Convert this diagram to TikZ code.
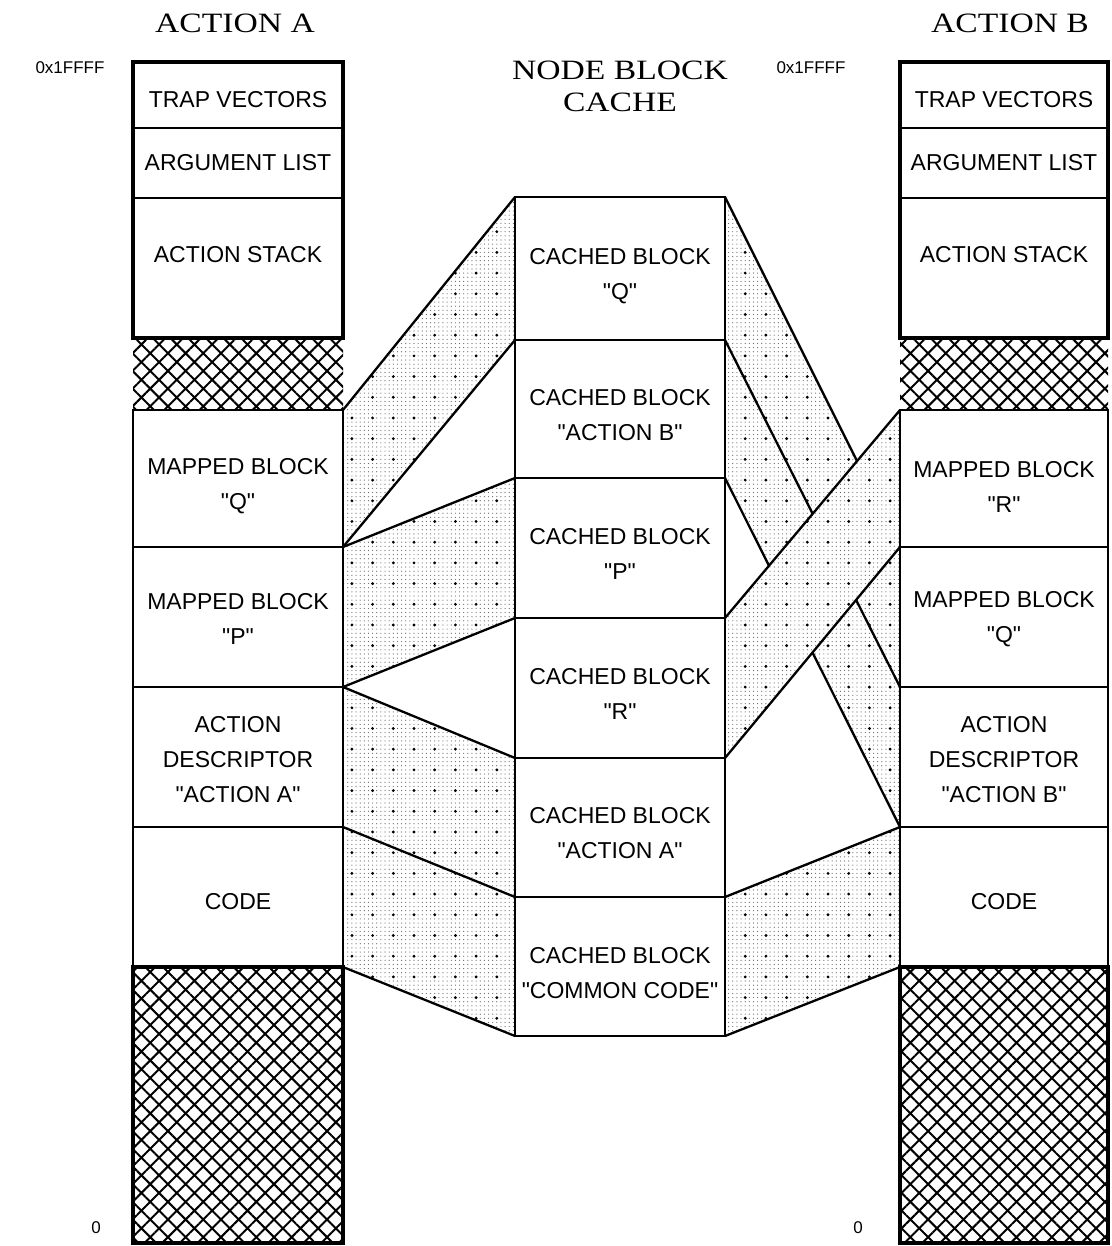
\documentclass[tikz,border=0pt]{standalone}
\usepackage{fontspec}
\setmainfont{Liberation Sans}[Ligatures=TeXOff]
\newfontfamily\boxfont{Liberation Sans}
\newfontfamily\titlefont{Liberation Serif}
\usetikzlibrary{patterns.meta,backgrounds}
\begin{document}
\begin{tikzpicture}[x=1pt,y=-1pt,
  box/.style={draw=black, line width=2.1pt, fill=white, outer sep=0pt, inner sep=0pt, anchor=north west, minimum width=210pt},
  rbox/.style={box, minimum width=208pt},
  hatchbox/.style={draw=none, fill=white, outer sep=0pt, inner sep=0pt, anchor=north west, minimum width=210pt,
     postaction={pattern={Hatch[angle=45,distance=12.5pt,line width=2pt]}, pattern color=black}},
  rhatchbox/.style={hatchbox, minimum width=208pt},
  thickline/.style={draw=black, line width=3.8pt},
  edge/.style={draw=black, line width=2.3pt},
  dotfill/.style={fill=white,
     postaction={pattern={Dots[distance=4.14pt,radius=0.6pt]}, pattern color=black!60},
     postaction={pattern={Dots[distance=20.7pt,radius=1.6pt]}, pattern color=black}},
  txt/.style={font=\boxfont\fontsize{23}{35}\selectfont, align=center, inner sep=0pt},
  sm/.style={font=\boxfont\fontsize{17}{20}\selectfont, inner sep=0pt},
  ttl/.style={font=\titlefont\fontsize{28}{32}\selectfont, align=center, inner sep=0pt}
]
\useasboundingbox (0,0) rectangle (1111,1246);

% ---- left column (ACTION A)
\node[box, minimum height=66pt]  (la1) at (133,62) {};
\node[box, minimum height=70pt]  (la2) at (133,128) {};
\node[box, minimum height=140pt] (la3) at (133,198) {};
\node[hatchbox, minimum height=72pt] (lh1) at (133,338) {};
\node[box, minimum height=137pt] (la4) at (133,410) {};
\node[box, minimum height=140pt] (la5) at (133,547) {};
\node[box, minimum height=140pt] (la6) at (133,687) {};
\node[box, minimum height=140pt] (la7) at (133,827) {};
\node[hatchbox, minimum height=276pt] (lh2) at (133,967) {};
\draw[thickline] (la1.north west) rectangle (la3.south east);
\draw[thickline] (lh2.north west) rectangle (lh2.south east);

% ---- center column (NODE BLOCK CACHE)
\node[box, minimum height=143pt] (c1) at (515,197) {};
\node[box, minimum height=138pt] (c2) at (515,340) {};
\node[box, minimum height=140pt] (c3) at (515,478) {};
\node[box, minimum height=140pt] (c4) at (515,618) {};
\node[box, minimum height=139pt] (c5) at (515,758) {};
\node[box, minimum height=139pt] (c6) at (515,897) {};

% ---- right column (ACTION B)
\node[rbox, minimum height=66pt]  (ra1) at (900,62) {};
\node[rbox, minimum height=70pt]  (ra2) at (900,128) {};
\node[rbox, minimum height=140pt] (ra3) at (900,198) {};
\node[rhatchbox, minimum height=72pt] (rh1) at (900,338) {};
\node[rbox, minimum height=137pt] (rb4) at (900,410) {};
\node[rbox, minimum height=140pt] (rb5) at (900,547) {};
\node[rbox, minimum height=140pt] (rb6) at (900,687) {};
\node[rbox, minimum height=140pt] (rb7) at (900,827) {};
\node[rhatchbox, minimum height=276pt] (rh2) at (900,967) {};
\draw[thickline] (ra1.north west) rectangle (ra3.south east);
\draw[thickline] (rh2.north west) rectangle (rh2.south east);

% ---- mapping bands
\begin{scope}[on background layer]
  % left side
  \fill[dotfill] (la4.north east) -- (c1.north west) -- (c1.south west) -- (la4.south east) -- cycle;
  \fill[dotfill] (la5.north east) -- (c3.north west) -- (c3.south west) -- (la5.south east) -- cycle;
  \fill[dotfill] (la6.north east) -- (c5.north west) -- (c5.south west) -- (la6.south east) -- cycle;
  \fill[dotfill] (la7.north east) -- (c6.north west) -- (c6.south west) -- (la7.south east) -- cycle;
  \draw[edge] (la4.north east) -- (c1.north west);
  \draw[edge] (la4.south east) -- (c1.south west);
  \draw[edge] (la5.north east) -- (c3.north west);
  \draw[edge] (la5.south east) -- (c3.south west);
  \draw[edge] (la6.north east) -- (c5.north west);
  \draw[edge] (la7.north east) -- (c6.north west);
  \draw[edge] (la7.south east) -- (c6.south west);
  % right side
  \fill[dotfill] (c1.north east) -- (rb5.north west) -- (rb5.south west) -- (c1.south east) -- cycle;
  \fill[dotfill] (c2.north east) -- (rb6.north west) -- (rb6.south west) -- (c2.south east) -- cycle;
  \draw[edge] (c1.north east) -- (rb5.north west);
  \draw[edge] (c1.south east) -- (rb5.south west);
  \draw[edge] (c2.south east) -- (rb6.south west);
  \fill[dotfill] (c4.north east) -- (rb4.north west) -- (rb4.south west) -- (c4.south east) -- cycle;
  \draw[edge] (c4.north east) -- (rb4.north west);
  \draw[edge] (c4.south east) -- (rb4.south west);
  \fill[dotfill] (c6.north east) -- (rb7.north west) -- (rb7.south west) -- (c6.south east) -- cycle;
  \draw[edge] (c6.north east) -- (rb7.north west);
  \draw[edge] (c6.south east) -- (rb7.south west);
\end{scope}

% ---- texts
\node[txt] (tla1) at ([yshift=-5pt]la1.center) {TRAP VECTORS};
\node[txt] (tla2) at (la2.center) {ARGUMENT LIST};
\node[txt] (tla3) at ([yshift=13pt]la3.center) {ACTION STACK};
\node[txt] (tla4) at ([yshift=-8pt]la4.center) {MAPPED BLOCK\\"Q"};
\node[txt] (tla5) at ([yshift=-2pt]la5.center) {MAPPED BLOCK\\"P"};
\node[txt] (tla6) at ([yshift=-3pt]la6.center) {ACTION\\DESCRIPTOR\\"ACTION A"};
\node[txt] (tla7) at ([yshift=-5pt]la7.center) {CODE};

\node[txt] (tc1) at ([yshift=-8pt]c1.center) {CACHED BLOCK\\"Q"};
\node[txt] (tc2) at ([yshift=-6pt]c2.center) {CACHED BLOCK\\"ACTION B"};
\node[txt] (tc3) at ([yshift=-6pt]c3.center) {CACHED BLOCK\\"P"};
\node[txt] (tc4) at ([yshift=-6pt]c4.center) {CACHED BLOCK\\"R"};
\node[txt] (tc5) at ([yshift=-6pt]c5.center) {CACHED BLOCK\\"ACTION A"};
\node[txt] (tc6) at ([yshift=-7pt]c6.center) {CACHED BLOCK\\"COMMON CODE"};

\node[txt] (tra1) at ([yshift=-5pt]ra1.center) {TRAP VECTORS};
\node[txt] (tra2) at (ra2.center) {ARGUMENT LIST};
\node[txt] (tra3) at ([yshift=13pt]ra3.center) {ACTION STACK};
\node[txt] (trb4) at ([yshift=-8pt]rb4.center) {MAPPED BLOCK\\"R"};
\node[txt] (trb5) at ([yshift=-2pt]rb5.center) {MAPPED BLOCK\\"Q"};
\node[txt] (trb6) at ([yshift=-3pt]rb6.center) {ACTION\\DESCRIPTOR\\"ACTION B"};
\node[txt] (trb7) at ([yshift=-5pt]rb7.center) {CODE};

% ---- titles and address labels
\node[ttl] (titA) at (235,23) {\scalebox{1.2}[1]{ACTION A}};
\node[ttl] (titB) at (1010,23) {\scalebox{1.2}[1]{ACTION B}};
\node[ttl] (titC) at (620,86) {\scalebox{1.2}[1]{NODE BLOCK}\\\scalebox{1.2}[1]{CACHE}};
\node[sm] (topA) at (70,68) {0x1FFFF};
\node[sm] (topB) at (811,68) {0x1FFFF};
\node[sm] (botA) at (96,1228) {0};
\node[sm] (botB) at (858,1228) {0};
\end{tikzpicture}
\end{document}
